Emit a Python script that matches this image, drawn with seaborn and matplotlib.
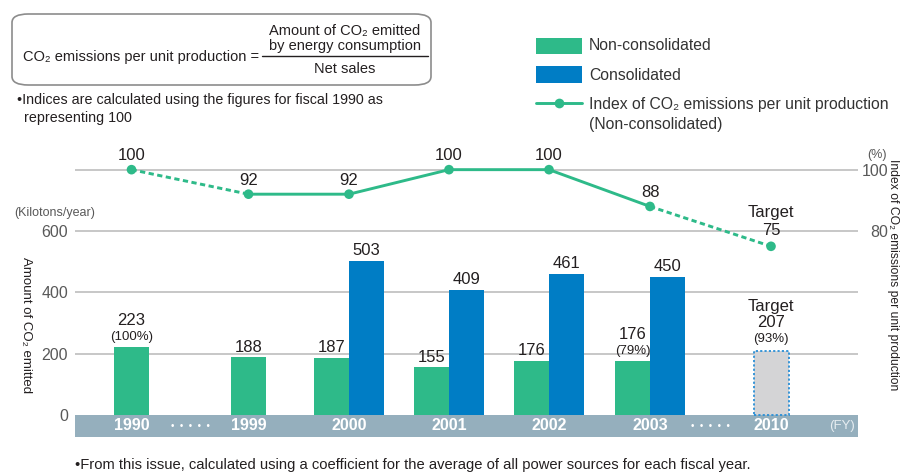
import matplotlib
matplotlib.use('Agg')
import matplotlib.pyplot as plt
import seaborn as sns
import pandas as pd
from matplotlib.patches import FancyBboxPatch, Rectangle
from matplotlib.lines import Line2D

# ---------------- data ----------------
years = ['1990', '1999', '2000', '2001', '2002', '2003', '2010']
non_consolidated = [223, 188, 187, 155, 176, 176]          # 1990..2003
consolidated = [None, None, 503, 409, 461, 450]           # 1990..2003
target_2010 = 207
index_values = [100, 92, 92, 100, 100, 88, 75]
bar_pct = {'1990': '(100%)', '2003': '(79%)', '2010': '(93%)'}
left_ticks = [0, 200, 400, 600]
right_ticks = [80, 100]

# ---------------- style ----------------
sns.set_theme(style='white')
plt.rcParams['font.family'] = ['Liberation Sans', 'DejaVu Sans']

GREEN = '#2EBA89'
BLUE = '#007DC5'
BAND = '#95AFBD'
GRID = '#B8B8B8'
TXT = '#231F20'
GREY_TXT = '#595959'
VAL_FS = 12

W, H = 905, 475
fig = plt.figure(figsize=(W / 100, H / 100), dpi=100)

def fx(px):
    return px / W

def fy(py):
    return 1 - py / H

ax = fig.add_axes([fx(75), fy(437), (858 - 75) / W, (437 - 139) / H])
ax.set_xlim(0, 7.83)
ax.set_ylim(-72, 900)
for s in ax.spines.values():
    s.set_visible(False)

# layout positions of categories (x in axis units)
xpos = [0.565, 1.735, 2.74, 3.74, 4.74, 5.75, 6.96]
bw = 0.35

# grid lines
for g in [200, 400, 600, 800]:
    ax.axhline(g, color=GRID, lw=1.1, zorder=0)
# year band
ax.axhspan(-72, 0, color=BAND, zorder=1, lw=0)

# bars
for i, yr in enumerate(years[:6]):
    if consolidated[i] is None:
        xc = xpos[i]
        ax.bar(xc, non_consolidated[i], width=bw, color=GREEN, zorder=2, lw=0)
        tops = [(xc, non_consolidated[i], yr)]
    else:
        xg = xpos[i] - bw / 2
        xb = xpos[i] + bw / 2
        ax.bar(xg, non_consolidated[i], width=bw, color=GREEN, zorder=2, lw=0)
        ax.bar(xb, consolidated[i], width=bw, color=BLUE, zorder=2, lw=0)
        tops = [(xg, non_consolidated[i], yr)]
        ax.annotate(str(consolidated[i]), (xb, consolidated[i]), xytext=(0, 2),
                    textcoords='offset points', ha='center', va='bottom',
                    fontsize=VAL_FS, color=TXT)
    for (xc, v, y_) in tops:
        if y_ in bar_pct:
            ax.annotate(bar_pct[y_], (xc, v), xytext=(0, 2.5), textcoords='offset points',
                        ha='center', va='bottom', fontsize=9.5, color=TXT)
            ax.annotate(str(v), (xc, v), xytext=(0, 13.5), textcoords='offset points',
                        ha='center', va='bottom', fontsize=VAL_FS, color=TXT)
        else:
            ax.annotate(str(v), (xc, v), xytext=(0, 2), textcoords='offset points',
                        ha='center', va='bottom', fontsize=VAL_FS, color=TXT)

# 2010 target bar
ax.bar(xpos[6], target_2010, width=bw, color='#D4D4D6', edgecolor='#2A8FD6',
       linestyle=(0, (1.2, 1.2)), lw=1.3, zorder=2)
ax.annotate(bar_pct['2010'], (xpos[6], target_2010), xytext=(0, 4.5), textcoords='offset points',
            ha='center', va='bottom', fontsize=9.5, color=TXT)
ax.annotate(str(target_2010), (xpos[6], target_2010), xytext=(0, 15.5), textcoords='offset points',
            ha='center', va='bottom', fontsize=VAL_FS, color=TXT)
ax.annotate('Target', (xpos[6], target_2010), xytext=(0, 27), textcoords='offset points',
            ha='center', va='bottom', fontsize=VAL_FS, color=TXT)

# year labels in band
for x, yr in zip(xpos, years):
    ax.text(x, -36, yr, ha='center', va='center', color='white', fontsize=11.5,
            fontweight='bold', zorder=3)
for x0, x1 in [(xpos[0], xpos[1]), (xpos[5], xpos[6])]:
    ax.text((x0 + x1) / 2, -36, '•  •  •  •  •', ha='center', va='center', color='white',
            fontsize=7, zorder=3)
ax.text(7.67, -36, '(FY)', ha='center', va='center', color='#E6EDF1', fontsize=9.5, zorder=3)

# left axis ticks
ax.set_xticks([])
ax.set_yticks(left_ticks)
ax.set_yticklabels([str(t) for t in left_ticks])
ax.tick_params(axis='y', left=False, length=0, pad=5, labelsize=11.5, labelcolor=GREY_TXT)

# right axis (index)
tw = ax.twinx()
tw.set_ylim(80 + (-72 - 600) / 10, 80 + (900 - 600) / 10)
tw.set_xlim(ax.get_xlim())
for s in tw.spines.values():
    s.set_visible(False)
tw.set_yticks(right_ticks)
tw.set_yticklabels([str(t) for t in right_ticks])
tw.tick_params(axis='y', right=False, length=0, pad=21.6, labelsize=11.5, labelcolor=GREY_TXT)
for lab in tw.get_yticklabels():
    lab.set_horizontalalignment('right')
tw.grid(False)
ax.grid(False)

# index line segments (dashed = interval with omitted years)
segments = [([0, 1], 'dash'), ([1, 2, 3, 4, 5], 'solid'), ([5, 6], 'dash')]
for idxs, kind in segments:
    df = pd.DataFrame({'x': [xpos[i] for i in idxs], 'v': [index_values[i] for i in idxs]})
    if kind == 'solid':
        sns.lineplot(data=df, x='x', y='v', ax=tw, color=GREEN, lw=2.1, sort=False,
                     estimator=None, zorder=4)
    else:
        sns.lineplot(data=df, x='x', y='v', ax=tw, color=GREEN, lw=2.1, sort=False,
                     estimator=None, zorder=4, linestyle=(0, (1.8, 1.2)))
dfp = pd.DataFrame({'x': xpos, 'v': index_values})
sns.scatterplot(data=dfp, x='x', y='v', ax=tw, color=GREEN, s=48, edgecolor='none', zorder=5)
tw.set_xlabel('')
tw.set_ylabel('')
ax.set_xlabel('')
for i, (x, v) in enumerate(zip(xpos, index_values)):
    if i == 6:
        tw.annotate(str(v), (x, v), xytext=(0, 6), textcoords='offset points',
                    ha='center', va='bottom', fontsize=VAL_FS, color=TXT)
        tw.annotate('Target', (x, v), xytext=(0, 19), textcoords='offset points',
                    ha='center', va='bottom', fontsize=VAL_FS, color=TXT)
    else:
        tw.annotate(str(v), (x, v), xytext=(0, 4.5), textcoords='offset points',
                    ha='center', va='bottom', fontsize=VAL_FS, color=TXT)

# axis titles
fig.text(fx(55), fy(213), '(Kilotons/year)', ha='center', va='center', fontsize=9, color=GREY_TXT)
fig.text(fx(877), fy(155), '(%)', ha='center', va='center', fontsize=9, color=GREY_TXT)
fig.text(fx(26), fy(325), 'Amount of CO₂ emitted', rotation=-90, ha='center', va='center',
         fontsize=9.5, color=TXT)
fig.text(fx(893), fy(275), 'Index of CO₂ emissions per unit production', rotation=-90,
         ha='center', va='center', fontsize=8.7, color=TXT)

# formula box
box = FancyBboxPatch((fx(12), fy(85)), fx(431) - fx(12), fy(14) - fy(85),
                     boxstyle='round,pad=0,rounding_size=0.018', transform=fig.transFigure,
                     facecolor='white', edgecolor='#8C8C8C', lw=1.2)
fig.patches.append(box)
fig.text(fx(23), fy(57), 'CO₂ emissions per unit production =', ha='left', va='center',
         fontsize=10.5, color=TXT)
fig.add_artist(Line2D([fx(262), fx(428)], [fy(56), fy(56)], color=TXT, lw=1.0,
                      transform=fig.transFigure))
fig.text(fx(345), fy(31), 'Amount of CO₂ emitted', ha='center', va='center', fontsize=10.5, color=TXT)
fig.text(fx(345), fy(46), 'by energy consumption', ha='center', va='center', fontsize=10.5, color=TXT)
fig.text(fx(345), fy(69), 'Net sales', ha='center', va='center', fontsize=10.5, color=TXT)
fig.text(fx(17), fy(100), '•Indices are calculated using the figures for fiscal 1990 as',
         ha='left', va='center', fontsize=10.3, color=TXT)
fig.text(fx(24), fy(118), 'representing 100', ha='left', va='center', fontsize=10.3, color=TXT)

# legend (manual)
fig.patches.append(Rectangle((fx(536), fy(54)), fx(46), fy(38) - fy(54), transform=fig.transFigure,
                             facecolor=GREEN, edgecolor='none'))
fig.patches.append(Rectangle((fx(536), fy(83)), fx(46), fy(66) - fy(83), transform=fig.transFigure,
                             facecolor=BLUE, edgecolor='none'))
fig.add_artist(Line2D([fx(536), fx(582)], [fy(103), fy(103)], color=GREEN, lw=2.1,
                      transform=fig.transFigure))
fig.add_artist(Line2D([fx(559)], [fy(103)], color=GREEN, marker='o', markersize=7,
                      markeredgewidth=0, transform=fig.transFigure))
LEG_FS = 11.3
fig.text(fx(589), fy(46), 'Non-consolidated', ha='left', va='center', fontsize=LEG_FS, color='#333333')
fig.text(fx(589), fy(75), 'Consolidated', ha='left', va='center', fontsize=LEG_FS, color='#333333')
fig.text(fx(589), fy(104), 'Index of CO₂ emissions per unit production', ha='left', va='center',
         fontsize=LEG_FS, color='#333333')
fig.text(fx(589), fy(124), '(Non-consolidated)', ha='left', va='center', fontsize=LEG_FS, color='#333333')

# footnote
fig.text(fx(75), fy(465),
         '•From this issue, calculated using a coefficient for the average of all power sources for each fiscal year.',
         ha='left', va='center', fontsize=10.6, color=TXT)

fig.savefig('out.png', dpi=100)
